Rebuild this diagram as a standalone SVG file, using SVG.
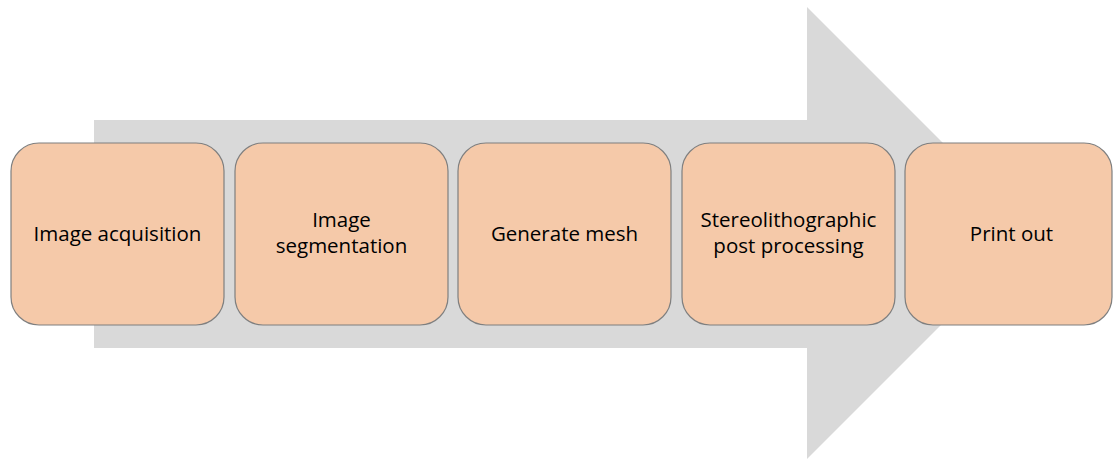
<svg xmlns="http://www.w3.org/2000/svg" width="1113" height="459" viewBox="0 0 1113 459">
<style>
.box{fill:#F5C9A9;stroke:#7F7F7F;stroke-width:1.2}
.t{font-family:"Open Sans","Liberation Sans",sans-serif;font-size:20.5px;fill:#000;text-anchor:middle}
</style>
<rect width="1113" height="459" fill="#fff"/>
<g id="arrow">
<polygon points="94,120 807,120 807,7 1033,233 807,459 807,348 94,348" fill="#D9D9D9"/>
</g>
<g id="n1"><rect class="box" x="11" y="143" width="213" height="182" rx="28"/><text class="t" x="117.5" y="241">Image acquisition</text></g>
<g id="n2"><rect class="box" x="235" y="143" width="213" height="182" rx="28"/><text class="t" x="341.5" y="227">Image</text><text class="t" x="341.5" y="253">segmentation</text></g>
<g id="n3"><rect class="box" x="458" y="143" width="213" height="182" rx="28"/><text class="t" x="564.5" y="241">Generate mesh</text></g>
<g id="n4"><rect class="box" x="682" y="143" width="213" height="182" rx="28"/><text class="t" x="788.5" y="227">Stereolithographic</text><text class="t" x="788.5" y="253">post processing</text></g>
<g id="n5"><rect class="box" x="905" y="143" width="207" height="182" rx="28"/><text class="t" x="1011.5" y="241">Print out</text></g>
<g id="connectors"></g>
</svg>
